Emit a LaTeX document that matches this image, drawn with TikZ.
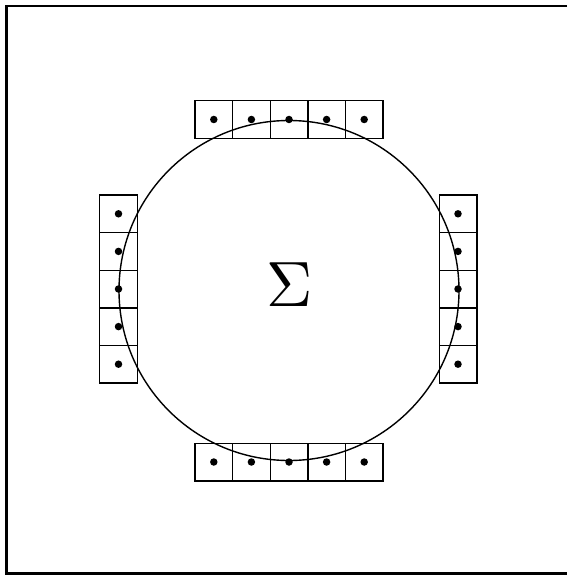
\documentclass[tikz,border=0pt]{standalone}
\usepackage{tikz}
\usetikzlibrary{positioning}

\begin{document}
\begin{tikzpicture}[x=1pt,y=-1pt,
  sq/.style={draw,line width=1.4pt,minimum size=37.6pt,inner sep=0pt,outer sep=0pt},
  d/.style={fill,circle,inner sep=0pt,minimum size=7.5pt},
  fr/.style={line width=2.8pt}]
\useasboundingbox (0,0) rectangle (567,575);
\draw[fr](567,6)--(6.5,6)--(6.5,573.5)--(567,573.5);
\node[draw,circle,line width=1.4pt,minimum size=340pt,inner sep=0pt](c) at (289,290.5){};
\node[scale=6.4](sig) at (290,285){$\Sigma$};
% boxes on the four sides, dot in each
\foreach \i in {1,...,5}{
  \pgfmathsetmacro\p{195+37.6*(\i-0.5)}
  \node[sq](t\i) at (\p,119.5){};
  \node[sq](b\i) at (\p,462){};
  \node[sq](l\i) at (118.5,\p){};
  \node[sq](r\i) at (458,\p){};
  \foreach \s in {t,b,l,r}
    \node[d](d\s\i) at (\s\i.center){};
}
\end{tikzpicture}
\end{document}
